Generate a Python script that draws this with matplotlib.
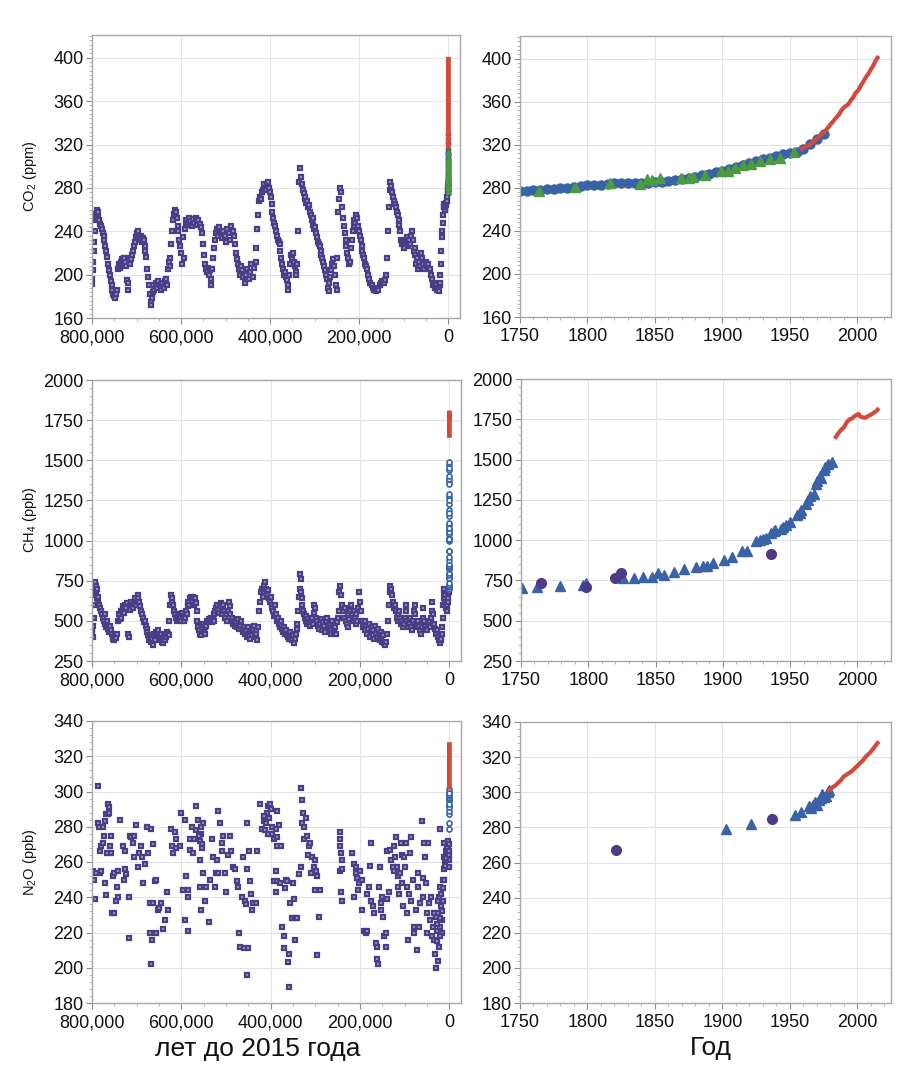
import numpy as np
import matplotlib
matplotlib.use('Agg')
import matplotlib.pyplot as plt
from matplotlib.ticker import AutoMinorLocator, FuncFormatter

plt.rcParams['font.family'] = ['Liberation Sans', 'DejaVu Sans']
plt.rcParams['mathtext.fontset'] = 'custom'
plt.rcParams['mathtext.rm'] = 'Liberation Sans'

# ---------------- DATA ----------------
# Ice-core CO2 (age in kyr before 2015, ppm)
co2_core_age = [
    800, 799, 798, 797, 796, 795, 794, 792, 790, 788,
    787, 786, 784, 782, 780, 778, 776, 774, 772, 770,
    768, 766, 764, 762, 760, 758, 756, 754, 752, 750,
    748, 746, 744, 742, 740, 738, 736, 734, 732, 730,
    728, 726, 724, 722, 720, 719, 718, 716, 714, 712,
    710, 708, 706, 704, 702, 700, 698, 696, 694, 692,
    690, 688, 686, 684, 682, 680, 678, 676, 674, 672,
    670, 668, 667, 666, 664, 662, 660, 657, 654, 651,
    648, 645, 642, 639, 636, 634, 632, 630, 628, 626,
    624, 622, 620, 618, 616, 614, 612, 610, 608, 606,
    604, 602, 600, 598, 596, 594, 592, 590, 588, 585,
    582, 579, 576, 573, 570, 567, 564, 561, 558, 555,
    552, 550, 548, 546, 544, 542, 540, 538, 536, 534,
    532, 530, 528, 526, 524, 522, 520, 518, 516, 514,
    511, 508, 505, 502, 499, 496, 493, 490, 487, 484,
    481, 478, 476, 474, 472, 470, 468, 466, 463, 460,
    457, 454, 451, 448, 445, 442, 439, 436, 433, 431,
    429, 427, 425, 423, 421, 419, 417, 415, 413, 411,
    409, 407, 405, 403, 401, 399, 397, 395, 393, 391,
    389, 387, 385, 383, 381, 379, 377, 375, 373, 371,
    369, 367, 365, 363, 361, 359, 357, 355, 353, 351,
    349, 347, 345, 343, 341, 339, 337, 335, 333, 331,
    329, 327, 325, 323, 321, 319, 317, 315, 313, 311,
    309, 307, 305, 303, 301, 299, 297, 295, 293, 291,
    289, 287, 285, 283, 281, 279, 277, 275, 273, 271,
    269, 267, 265, 263, 261, 259, 257, 255, 253, 251,
    249, 247, 245, 243, 241, 239, 237, 235, 233, 231,
    229, 227, 225, 223, 221, 219, 217, 215, 213, 211,
    209, 207, 205, 203, 201, 199, 197, 195, 193, 191,
    189, 187, 185, 183, 181, 178, 175, 172, 169, 166,
    163, 160, 157, 154, 151, 148, 145, 142, 140, 138,
    136, 134, 132, 130, 128, 126, 124, 122, 120, 118,
    116, 114, 112, 110, 108, 106, 104, 102, 100, 98,
    96, 94, 92, 90, 88, 86, 84, 82, 80, 78,
    76, 74, 72, 70, 68, 66, 64, 62, 60, 57,
    54, 51, 48, 45, 42, 39, 36, 34, 32, 30,
    28, 26, 24, 22, 20, 19, 18, 17, 16, 15,
    14, 13, 12, 11, 10, 9, 8, 7, 6, 5,
    4, 3, 2, 1, 0.5]
co2_core_ppm = [
    191, 196, 204, 212, 222, 230, 240, 250, 256, 260,
    258, 252, 250, 247, 245, 242, 238, 236, 232, 226,
    222, 216, 210, 204, 200, 194, 190, 186, 182, 180,
    178, 182, 186, 205, 210, 206, 212, 208, 214, 210,
    215, 212, 208, 195, 186, 192, 212, 215, 210, 214,
    218, 222, 226, 230, 235, 238, 234, 240, 236, 232,
    236, 230, 234, 232, 226, 222, 216, 205, 198, 190,
    182, 175, 172, 178, 184, 190, 186, 192, 188, 194,
    190, 186, 192, 188, 194, 196, 190, 205, 212, 208,
    215, 228, 240, 250, 256, 260, 258, 252, 245, 240,
    232, 226, 220, 210, 235, 215, 242, 250, 246, 248,
    252, 249, 245, 251, 248, 252, 246, 250, 247, 244,
    238, 228, 218, 210, 205, 202, 206, 200, 204, 196,
    190, 205, 215, 225, 232, 238, 242, 236, 240, 244,
    238, 234, 240, 236, 230, 242, 238, 232, 245, 240,
    236, 228, 220, 214, 210, 205, 200, 208, 204, 198,
    192, 200, 205, 196, 202, 210, 198, 206, 212, 225,
    242, 255, 268, 272, 270, 276, 278, 282, 284, 280,
    278, 282, 285, 280, 276, 272, 265, 258, 252, 248,
    245, 240, 236, 232, 230, 228, 222, 215, 210, 205,
    200, 202, 198, 195, 186, 190, 200, 210, 218, 214,
    220, 212, 208, 202, 200, 210, 240, 285, 298, 290,
    284, 278, 275, 270, 272, 266, 268, 262, 264, 258,
    255, 250, 252, 246, 242, 244, 238, 235, 230, 228,
    226, 222, 218, 215, 212, 208, 204, 200, 196, 188,
    185, 192, 198, 204, 210, 214, 208, 200, 190, 186,
    215, 258, 270, 280, 276, 262, 252, 245, 238, 232,
    226, 220, 215, 210, 212, 225, 232, 240, 245, 250,
    248, 255, 252, 245, 240, 236, 232, 226, 222, 218,
    215, 210, 208, 205, 200, 196, 192, 190, 188, 186,
    185, 188, 186, 190, 192, 194, 192, 195, 200, 215,
    240, 262, 278, 285, 282, 276, 272, 268, 265, 262,
    258, 255, 250, 246, 240, 232, 228, 230, 225, 232,
    228, 235, 230, 226, 232, 228, 236, 240, 232, 222,
    218, 225, 210, 215, 205, 212, 208, 220, 215, 210,
    205, 212, 208, 210, 205, 200, 196, 190, 192, 188,
    190, 186, 188, 185, 190, 192, 200, 210, 222, 235,
    240, 248, 255, 262, 265, 262, 260, 262, 264, 266,
    268, 272, 275, 278, 280]

# Law Dome CO2 (blue circles) and other firn/ice (green triangles), year AD
co2_law_year = [1750, 1755, 1760, 1765, 1770, 1775, 1780, 1785, 1790, 1795,
                1800, 1805, 1810, 1815, 1820, 1825, 1830, 1835, 1840, 1845,
                1850, 1855, 1860, 1865, 1870, 1875, 1880, 1885, 1890, 1895,
                1900, 1905, 1910, 1915, 1920, 1925, 1930, 1935, 1940, 1945,
                1950, 1955, 1960, 1965, 1970, 1975]
co2_law_ppm = [277, 277, 277.5, 278, 278.5, 279, 279.5, 280, 280.5, 281.5,
               282.5, 283, 283, 283.5, 284, 284, 284, 284, 284, 284.5,
               285, 285.5, 286, 287, 288, 289, 290.5, 291.5, 293, 294.5,
               296, 297.5, 299, 301, 303, 305, 307, 308, 310, 311,
               312, 313, 316, 321, 325, 330]
co2_tri_year = [1764, 1791, 1817, 1839, 1844, 1848, 1854, 1869, 1875, 1878,
                1887, 1899, 1904, 1909, 1915, 1921, 1928, 1935, 1943, 1953]
co2_tri_ppm = [277, 281, 284.5, 283.5, 288.5, 287, 289, 289, 289, 290,
               292, 296, 296, 298, 301, 302, 305, 307, 308, 313]

# Instrumental CO2 (red)
co2_inst_year = [1959, 1960, 1961, 1962, 1963, 1964, 1965, 1966, 1967, 1968,
                 1969, 1970, 1971, 1972, 1973, 1974, 1975, 1976, 1977, 1978,
                 1979, 1980, 1981, 1982, 1983, 1984, 1985, 1986, 1987, 1988,
                 1989, 1990, 1991, 1992, 1993, 1994, 1995, 1996, 1997, 1998,
                 1999, 2000, 2001, 2002, 2003, 2004, 2005, 2006, 2007, 2008,
                 2009, 2010, 2011, 2012, 2013, 2014, 2015]
co2_inst_ppm = [316.0, 316.9, 317.6, 318.5, 319.0, 319.6, 320.0, 321.4, 322.2, 323.0,
                324.6, 325.7, 326.3, 327.5, 329.7, 330.2, 331.1, 332.0, 333.8, 335.4,
                336.8, 338.8, 340.1, 341.5, 343.1, 344.7, 346.1, 347.4, 349.2, 351.6,
                353.1, 354.4, 355.6, 356.5, 357.1, 358.8, 360.8, 362.6, 363.7, 366.7,
                368.4, 369.6, 371.1, 373.3, 375.8, 377.5, 379.8, 381.9, 383.8, 385.6,
                387.4, 389.9, 391.7, 393.9, 396.5, 398.7, 400.8]

# Ice-core CH4 (age in kyr, ppb)
ch4_core_age = [
    800, 799, 798, 797, 796, 795, 794, 793, 792, 791,
    790, 789, 788, 787, 786, 784, 782, 780, 778, 776,
    774, 772, 770, 768, 766, 764, 762, 760, 758, 756,
    754, 752, 750, 748, 746, 744, 742, 740, 738, 736,
    734, 732, 730, 728, 726, 724, 722, 720, 718, 716,
    714, 712, 710, 708, 706, 704, 702, 700, 698, 696,
    694, 692, 690, 688, 686, 684, 682, 680, 678, 676,
    674, 672, 670, 668, 666, 664, 662, 660, 658, 656,
    654, 652, 650, 648, 646, 644, 642, 640, 638, 636,
    634, 632, 630, 628, 627, 626, 624, 622, 620, 618,
    616, 614, 612, 610, 608, 606, 604, 602, 600, 598,
    596, 594, 592, 590, 588, 586, 584, 582, 580, 578,
    576, 574, 572, 570, 568, 566, 564, 562, 560, 558,
    556, 554, 552, 550, 548, 546, 544, 542, 540, 538,
    536, 534, 532, 530, 528, 526, 524, 522, 520, 518,
    516, 514, 512, 510, 508, 506, 504, 502, 500, 498,
    496, 494, 492, 490, 488, 486, 484, 482, 480, 478,
    476, 474, 472, 470, 468, 466, 464, 462, 460, 458,
    456, 454, 452, 450, 448, 446, 444, 442, 440, 438,
    436, 434, 432, 430, 428, 426, 424, 422, 420, 418,
    416, 414, 412, 410, 408, 406, 404, 402, 400, 398,
    396, 394, 392, 390, 388, 386, 384, 382, 380, 378,
    376, 374, 372, 370, 368, 366, 364, 362, 360, 358,
    356, 354, 352, 350, 348, 346, 344, 342, 340, 338,
    336, 335, 334, 333, 332, 331, 330, 328, 326, 324,
    322, 320, 318, 316, 314, 312, 310, 308, 306, 304,
    302, 300, 298, 296, 294, 292, 290, 288, 286, 284,
    282, 280, 278, 276, 274, 272, 270, 268, 266, 264,
    262, 260, 258, 256, 254, 252, 250, 248, 246, 244,
    242, 240, 238, 236, 234, 232, 230, 228, 226, 224,
    222, 220, 218, 216, 214, 212, 210, 208, 206, 204,
    202, 200, 198, 196, 194, 192, 190, 188, 186, 184,
    182, 180, 178, 176, 174, 172, 170, 168, 166, 164,
    162, 160, 158, 156, 154, 152, 150, 148, 146, 144,
    142, 140, 138, 136, 134, 132, 130, 128, 126, 124,
    122, 120, 118, 116, 114, 112, 110, 108, 106, 104,
    102, 100, 98, 96, 94, 92, 90, 88, 86, 84,
    82, 80, 78, 76, 74, 72, 70, 68, 66, 64,
    62, 60, 58, 56, 54, 52, 50, 48, 46, 44,
    42, 40, 38, 36, 34, 32, 30, 28, 26, 24,
    22, 20, 19, 18, 17, 16, 15, 14, 13, 12,
    11, 10, 9, 8, 7, 6, 5, 4, 3, 2,
    1.5, 1]
ch4_core_ppb = [
    420, 450, 400, 470, 520, 600, 680, 740, 720, 690,
    660, 700, 640, 610, 650, 600, 580, 560, 540, 520,
    500, 540, 480, 460, 500, 450, 430, 470, 440, 420,
    400, 390, 380, 410, 395, 420, 500, 540, 510, 560,
    520, 560, 590, 550, 600, 580, 610, 420, 400, 570,
    590, 620, 600, 580, 610, 640, 600, 620, 660, 640,
    620, 590, 560, 540, 520, 490, 500, 470, 450, 430,
    410, 380, 400, 370, 390, 350, 420, 400, 380, 430,
    410, 440, 400, 380, 420, 370, 390, 360, 410, 380,
    400, 430, 420, 410, 500, 600, 660, 620, 640, 600,
    560, 540, 520, 500, 530, 510, 540, 520, 500, 550,
    530, 500, 520, 560, 540, 590, 620, 600, 640, 650,
    620, 650, 600, 640, 610, 560, 500, 460, 440, 420,
    410, 450, 480, 430, 460, 420, 470, 500, 490, 510,
    500, 520, 490, 510, 500, 540, 560, 580, 600, 570,
    550, 590, 610, 570, 540, 600, 560, 520, 540, 500,
    560, 620, 590, 540, 500, 520, 480, 500, 470, 490,
    460, 510, 480, 450, 470, 500, 450, 430, 460, 420,
    440, 400, 420, 460, 410, 390, 430, 410, 450, 470,
    400, 420, 440, 380, 460, 560, 620, 680, 700, 650,
    720, 680, 740, 700, 660, 690, 640, 620, 650, 600,
    580, 560, 530, 600, 540, 500, 520, 480, 460, 500,
    470, 450, 430, 460, 420, 440, 410, 400, 420, 390,
    430, 400, 380, 410, 360, 390, 420, 450, 480, 560,
    650, 700, 790, 760, 680, 640, 600, 560, 540, 520,
    500, 530, 480, 510, 490, 470, 500, 520, 480, 550,
    600, 580, 520, 500, 470, 450, 480, 510, 440, 460,
    490, 470, 430, 500, 520, 460, 440, 480, 420, 450,
    500, 470, 430, 460, 420, 490, 520, 560, 680, 720,
    660, 600, 560, 520, 580, 500, 480, 540, 460, 510,
    560, 600, 540, 500, 560, 520, 480, 540, 500, 580,
    680, 620, 560, 500, 460, 480, 440, 500, 470, 420,
    450, 480, 400, 430, 460, 410, 440, 390, 470, 420,
    400, 450, 420, 380, 430, 400, 370, 410, 360, 350,
    370, 420, 500, 600, 680, 720, 700, 660, 620, 580,
    600, 560, 520, 540, 500, 560, 520, 480, 500, 460,
    480, 520, 600, 560, 500, 460, 480, 520, 460, 440,
    500, 560, 600, 540, 480, 460, 500, 470, 440, 420,
    460, 520, 580, 500, 470, 450, 440, 480, 500, 460,
    520, 560, 620, 540, 480, 450, 420, 440, 400, 380,
    370, 360, 380, 390, 420, 460, 520, 600, 640, 680,
    700, 660, 620, 600, 580, 560, 600, 620, 640, 680,
    700, 680]

# Law Dome CH4 (blue), other cores (purple circles), instrumental (red)
ch4_law_year = [1751, 1762, 1779, 1796, 1798, 1826, 1834, 1841, 1847, 1852,
                1856, 1864, 1871, 1880, 1885, 1888, 1893, 1901, 1907, 1914,
                1918, 1925, 1928, 1932, 1936, 1939, 1943, 1947, 1950, 1955,
                1958, 1962, 1965, 1968, 1970, 1973, 1975, 1978, 1981,
                1930, 1938, 1945, 1957, 1963, 1969, 1972, 1976]
ch4_law_ppb = [701, 708, 718, 722, 737, 764, 764, 774, 770, 793,
               784, 801, 820, 832, 840, 842, 857, 877, 898, 935,
               935, 996, 1002, 1016, 1043, 1060, 1070, 1095, 1111, 1153,
               1188, 1225, 1271, 1288, 1364, 1385, 1437, 1472, 1488,
               1010, 1055, 1080, 1170, 1250, 1350, 1400, 1455]
ch4_oth_year = [1765, 1798, 1820, 1824, 1936]
ch4_oth_ppb = [732, 712, 764, 795, 913]
ch4_inst_year = [1984, 1986, 1988, 1990, 1992, 1994, 1996, 1998, 2000, 2001,
                 2002, 2004, 2006, 2008, 2010, 2012, 2014, 2015]
ch4_inst_ppb = [1640, 1665, 1685, 1700, 1730, 1748, 1755, 1770, 1780, 1782,
                1768, 1762, 1760, 1770, 1778, 1790, 1800, 1810]

# Ice-core N2O (age in kyr, ppb)
n2o_core_age = [
    797, 795, 793, 791, 787, 786, 785, 783, 783, 780,
    780, 776, 776, 774, 772, 770, 768, 768, 766, 765,
    765, 761, 761, 759, 757, 757, 755, 753, 750, 750,
    746, 744, 742, 742, 738, 731, 729, 727, 727, 724,
    718, 717, 716, 712, 708, 705, 705, 701, 698, 694,
    691, 688, 686, 682, 678, 675, 671, 671, 667, 667,
    666, 663, 663, 660, 656, 656, 652, 649, 645, 641,
    637, 633, 630, 624, 622, 618, 615, 611, 611, 603,
    600, 596, 592, 592, 589, 585, 585, 585, 581, 581,
    577, 574, 572, 567, 567, 563, 559, 559, 555, 555,
    551, 547, 544, 538, 536, 532, 529, 525, 523, 521,
    517, 517, 514, 510, 510, 506, 502, 499, 495, 491,
    488, 484, 480, 476, 473, 470, 469, 465, 463, 460,
    457, 456, 454, 454, 452, 450, 448, 446, 444, 442,
    439, 433, 431, 425, 420, 416, 412, 409, 405, 401,
    400, 397, 393, 389, 387, 385, 385, 382, 377, 389,
    393, 389, 385, 379, 375, 371, 370, 368, 366, 364,
    362, 360, 358, 356, 352, 350, 348, 345, 345, 341,
    336, 333, 332, 330, 330, 328, 326, 325, 322, 318,
    317, 315, 311, 310, 307, 303, 301, 300, 298, 296,
    296, 292, 290, 245, 244, 244, 242, 244, 242, 240,
    240, 240, 217, 214, 214, 210, 208, 206, 205, 202,
    199, 195, 195, 191, 187, 185, 184, 180, 178, 176,
    176, 172, 169, 165, 163, 161, 160, 158, 155, 154,
    152, 150, 148, 146, 142, 142, 140, 139, 135, 133,
    130, 127, 125, 123, 122, 120, 118, 116, 115, 112,
    110, 109, 107, 105, 103, 101, 100, 97, 95, 94,
    92, 90, 88, 86, 85, 82, 80, 79, 75, 73,
    71, 70, 67, 65, 62, 60, 58, 56, 55, 52,
    50, 49, 47, 45, 43, 41, 40, 37, 35, 34,
    32, 31, 30, 28, 26, 26, 25, 22, 22, 20,
    19, 17, 17, 15, 15, 13, 13, 11, 10, 7,
    5, 4, 2, 1, 0.5, 28, 27, 24, 23, 21,
    20, 18, 16, 14, 12, 9, 8, 6, 3, 1.5,
    0.8, 0.3, 558, 556, 554, 552, 560, 553, 414, 410,
    407, 403, 399, 396]
n2o_core_ppb = [
    255, 250, 239, 254, 303, 282, 280, 266, 254, 269,
    255, 271, 280, 275, 248, 283, 241, 287, 265, 293,
    287, 291, 288, 269, 265, 275, 231, 252, 231, 254,
    238, 246, 240, 255, 284, 269, 250, 266, 256, 253,
    240, 217, 275, 274, 271, 275, 263, 281, 257, 265,
    269, 263, 248, 259, 280, 265, 237, 220, 279, 202,
    216, 270, 237, 249, 250, 220, 233, 234, 237, 222,
    227, 243, 233, 279, 269, 265, 277, 273, 268, 269,
    288, 244, 284, 227, 252, 221, 240, 244, 267, 273,
    280, 265, 273, 292, 278, 284, 261, 246, 280, 233,
    254, 238, 246, 226, 250, 273, 263, 246, 254, 261,
    289, 254, 282, 271, 266, 275, 254, 243, 264, 275,
    266, 257, 256, 249, 246, 220, 212, 240, 263, 211,
    238, 236, 196, 282, 256, 211, 266, 249, 242, 233,
    237, 237, 266, 293, 279, 283, 278, 288, 292, 293,
    276, 280, 273, 279, 269, 289, 274, 281, 269, 255,
    249, 243, 249, 248, 223, 211, 218, 245, 250, 249,
    203, 208, 189, 237, 228, 248, 239, 216, 228, 228,
    253, 257, 302, 295, 282, 288, 280, 273, 285, 275,
    264, 269, 271, 254, 263, 257, 244, 261, 255, 252,
    207, 229, 244, 277, 273, 269, 265, 255, 243, 238,
    261, 256, 265, 259, 240, 254, 257, 251, 244, 248,
    255, 250, 233, 221, 220, 221, 242, 246, 258, 238,
    271, 235, 231, 214, 212, 205, 202, 246, 257, 237,
    233, 240, 229, 218, 220, 212, 266, 239, 243, 267,
    261, 257, 255, 269, 263, 274, 257, 252, 246, 242,
    254, 271, 264, 248, 235, 263, 257, 271, 246, 231,
    216, 242, 265, 274, 238, 250, 223, 220, 233, 210,
    254, 246, 223, 237, 283, 240, 251, 271, 263, 248,
    231, 220, 271, 237, 227, 240, 218, 223, 231, 216,
    208, 200, 229, 221, 238, 204, 231, 223, 279, 246,
    235, 220, 227, 238, 250, 263, 256, 271, 261, 266,
    263, 269, 265, 257, 261, 215, 225, 212, 240, 228,
    218, 242, 232, 245, 250, 258, 262, 268, 272, 264,
    270, 266, 272, 276, 270, 282, 275, 268, 286, 282,
    276, 285, 290, 276]

n2o_law_year = [1903, 1921, 1954, 1958, 1964, 1967, 1969, 1972, 1973, 1975,
                1977, 1978, 1979, 1966, 1970, 1974]
n2o_law_ppb = [279, 282, 287, 289, 292, 292.5, 294.5, 295.5, 296.5, 297.5,
               298, 300, 301.5, 291, 293, 299]
n2o_oth_year = [1821, 1937]
n2o_oth_ppb = [267, 285]
n2o_inst_year = [1979, 1980, 1982, 1984, 1986, 1988, 1990, 1992, 1994, 1996,
                 1998, 2000, 2002, 2004, 2006, 2008, 2010, 2012, 2014, 2015]
n2o_inst_ppb = [301, 301.5, 303, 304, 305.5, 307, 309, 310, 311, 312,
                313.5, 315, 316.5, 318, 320, 321.5, 323, 325, 327, 328]

left_xticks = [800000, 600000, 400000, 200000, 0]
right_xticks = [1750, 1800, 1850, 1900, 1950, 2000]
co2_yticks = [160, 200, 240, 280, 320, 360, 400]
ch4_yticks = [250, 500, 750, 1000, 1250, 1500, 1750, 2000]
n2o_yticks = [180, 200, 220, 240, 260, 280, 300, 320, 340]
ref_year = 2015

# ---------------- STYLE ----------------
PURPLE = '#4a3e86'
PURPLE_FACE = '#a79fcf'
BLUE = '#3a62a6'
GREEN = '#4c9a42'
RED = '#d24a3c'
DOT = '#4f3b85'

W, H = 918, 1071
fig = plt.figure(figsize=(W / 100, H / 100), dpi=100)


def px_axes(l, t, r, b):
    return fig.add_axes([l / W, 1 - b / H, (r - l) / W, (b - t) / H])


def style(ax, yticks, ylim, nminor_y):
    for s in ax.spines.values():
        s.set_color('#a8a8a8')
        s.set_linewidth(1.0)
    ax.grid(True, which='major', color='#e3e3e3', lw=0.8)
    ax.set_axisbelow(True)
    ax.set_yticks(yticks)
    ax.set_ylim(*ylim)
    ax.yaxis.set_minor_locator(AutoMinorLocator(nminor_y))
    ax.tick_params(which='major', direction='out', length=4, width=0.8,
                   color='#8c8c8c', labelsize=13, labelcolor='#111111', pad=2)
    ax.tick_params(axis='x', which='major', pad=4)
    ax.tick_params(which='minor', direction='out', length=2.5, width=0.6,
                   color='#a8a8a8')


def style_left(ax):
    ax.set_xticks(left_xticks)
    ax.set_xlim(800000, -26000)
    ax.xaxis.set_major_formatter(FuncFormatter(lambda v, p: f'{int(round(v)):,}'))
    ax.xaxis.set_minor_locator(AutoMinorLocator(4))


def style_right(ax):
    ax.set_xticks(right_xticks)
    ax.set_xlim(1750, 2025)
    ax.xaxis.set_minor_locator(AutoMinorLocator(5))


def ages(kyr):
    return np.asarray(kyr, dtype=float) * 1000.0


def since(years):
    return ref_year - np.asarray(years, dtype=float)


sq = dict(ls='none', marker='s', ms=3.4, mfc=PURPLE_FACE, mec=PURPLE, mew=1.6)
hollow = dict(ls='none', marker='o', ms=3.6, mfc='white', mec=BLUE, mew=1.2)

# ---- CO2 left ----
ax1 = px_axes(92, 35, 460, 318)
style(ax1, co2_yticks, (160, 421), 10)
style_left(ax1)
ax1.plot(ages(co2_core_age), co2_core_ppm, **sq)
ax1.plot(since(co2_law_year), co2_law_ppm, ls='none', marker='o', ms=3.2, color=BLUE)
ax1.plot(since(co2_tri_year), co2_tri_ppm, ls='none', marker='^', ms=3.6, color=GREEN)
ax1.plot(since(co2_inst_year), co2_inst_ppm, color=RED, lw=3.5, solid_capstyle='butt')

# ---- CO2 right ----
ax2 = px_axes(520, 36, 891, 317)
style(ax2, co2_yticks, (160, 421), 10)
style_right(ax2)
ax2.plot(co2_law_year, co2_law_ppm, ls='none', marker='o', ms=6.5, color=BLUE)
ax2.plot(co2_tri_year, co2_tri_ppm, ls='none', marker='^', ms=7.5, color=GREEN)
ax2.plot(co2_inst_year, co2_inst_ppm, color=RED, lw=3)

# ---- CH4 left ----
ax3 = px_axes(92, 380, 461, 661)
style(ax3, ch4_yticks, (250, 2000), 5)
style_left(ax3)
ax3.plot(ages(ch4_core_age), ch4_core_ppb, **sq)
ax3.plot(since(ch4_law_year), ch4_law_ppb, **hollow)
ax3.plot(since(ch4_inst_year), ch4_inst_ppb, color=RED, lw=3.5, solid_capstyle='butt')

# ---- CH4 right ----
ax4 = px_axes(521, 379, 891, 661)
style(ax4, ch4_yticks, (250, 2000), 5)
style_right(ax4)
ax4.plot(ch4_law_year, ch4_law_ppb, ls='none', marker='^', ms=7.5, color=BLUE)
ax4.plot(ch4_oth_year, ch4_oth_ppb, ls='none', marker='o', ms=7, color=DOT)
ax4.plot(ch4_inst_year, ch4_inst_ppb, color=RED, lw=3)

# ---- N2O left ----
ax5 = px_axes(92, 721, 461, 1003)
style(ax5, n2o_yticks, (180, 340), 5)
style_left(ax5)
ax5.plot(ages(n2o_core_age), n2o_core_ppb, **sq)
ax5.plot(since(n2o_law_year), n2o_law_ppb, **hollow)
ax5.plot(since(n2o_inst_year), n2o_inst_ppb, color=RED, lw=3.5, solid_capstyle='butt')

# ---- N2O right ----
ax6 = px_axes(520, 722, 891, 1003)
style(ax6, n2o_yticks, (180, 340), 5)
style_right(ax6)
ax6.plot(n2o_law_year, n2o_law_ppb, ls='none', marker='^', ms=7.5, color=BLUE)
ax6.plot(n2o_oth_year, n2o_oth_ppb, ls='none', marker='o', ms=7, color=DOT)
ax6.plot(n2o_inst_year, n2o_inst_ppb, color=RED, lw=3)

# ---- labels ----
lab_kw = dict(rotation=90, ha='center', va='center', fontsize=10.5, color='#111111')
fig.text(30 / W, 1 - 176 / H, r'CO$_\mathregular{2}$ (ppm)', **lab_kw)
fig.text(30 / W, 1 - 520 / H, r'CH$_\mathregular{4}$ (ppb)', **lab_kw)
fig.text(30 / W, 1 - 862 / H, r'N$_\mathregular{2}$O (ppb)', **lab_kw)
fig.text(258 / W, 1 - 1049 / H, 'лет до 2015 года', ha='center', va='center',
         fontsize=19, color='#111111')
fig.text(711 / W, 1 - 1048 / H, 'Год', ha='center', va='center',
         fontsize=19, color='#111111')

fig.savefig('out.png', dpi=100)
